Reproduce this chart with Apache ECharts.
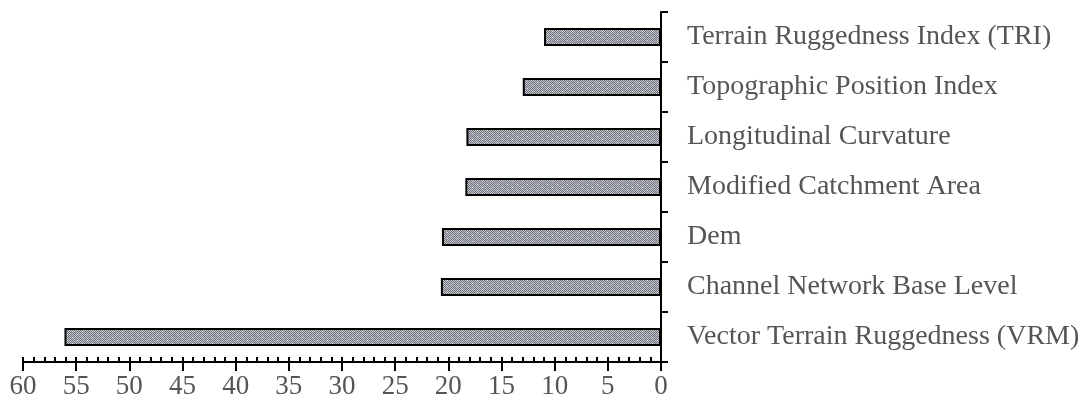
<!DOCTYPE html>
<html><head><meta charset="utf-8">
<script src="https://cdn.jsdelivr.net/npm/echarts@6/dist/echarts.min.js"></script>
<style>html,body{margin:0;padding:0;background:#fff}#c{width:1083px;height:405px}</style>
</head><body><div id="c"></div>
<script>
const categories = ['Vector Terrain Ruggedness (VRM)', 'Channel Network Base Level', 'Dem', 'Modified Catchment Area', 'Longitudinal Curvature', 'Topographic Position Index', 'Terrain Ruggedness Index (TRI)'];
const values = [56.1, 20.7, 20.6, 18.4, 18.3, 13.0, 11.0];
const xTicks = [0, 5, 10, 15, 20, 25, 30, 35, 40, 45, 50, 55, 60];

function makePattern() {
  const c = document.createElement('canvas');
  c.width = 10; c.height = 6;
  const g = c.getContext('2d');
  g.fillStyle = '#c0c3ca'; g.fillRect(0, 0, 10, 6);
  g.fillStyle = '#6f737c';
  for (let y = 0; y < 6; y++) for (let x = 0; x < 10; x++) if ((x + y) % 2 === 0) g.fillRect(x, y, 1, 1);
  g.fillStyle = '#ffffff';
  g.fillRect(2, 1, 1, 1); g.fillRect(7, 4, 1, 1);
  return c;
}

const chart = echarts.init(document.getElementById('c'));
const font = '"Liberation Serif", "Times New Roman", serif';
chart.setOption({
  animation: false,
  grid: { left: 23, right: 422, top: 12, bottom: 43 },
  xAxis: [{
    type: 'value', inverse: true, min: 0, max: 60, interval: 5,
    axisLine: { show: true, lineStyle: { color: '#000', width: 2 } },
    axisTick: { show: true, length: 9, lineStyle: { color: '#000', width: 2 } },
    axisLabel: { margin: 11, fontSize: 27, fontFamily: font, color: '#555',
      formatter: v => xTicks.includes(v) ? String(v) : '' },
    splitLine: { show: false }
  }, {
    type: 'value', inverse: true, min: 0, max: 60, interval: 1, position: 'bottom',
    axisLine: { show: false },
    axisTick: { show: true, inside: true, length: 5, lineStyle: { color: '#000', width: 2 } },
    axisLabel: { show: false }, splitLine: { show: false }
  }],
  yAxis: {
    type: 'category', data: categories, position: 'right',
    axisLine: { show: true, lineStyle: { color: '#000', width: 2 } },
    axisTick: { show: true, length: 7, lineStyle: { color: '#000', width: 2 } },
    axisLabel: { margin: 26, fontSize: 28, fontFamily: font, color: '#555' }
  },
  series: [{
    type: 'bar', data: values, barWidth: 18,
    itemStyle: { color: { image: makePattern(), repeat: 'repeat' }, borderColor: '#000', borderWidth: 2 }
  }]
});
</script></body></html>
